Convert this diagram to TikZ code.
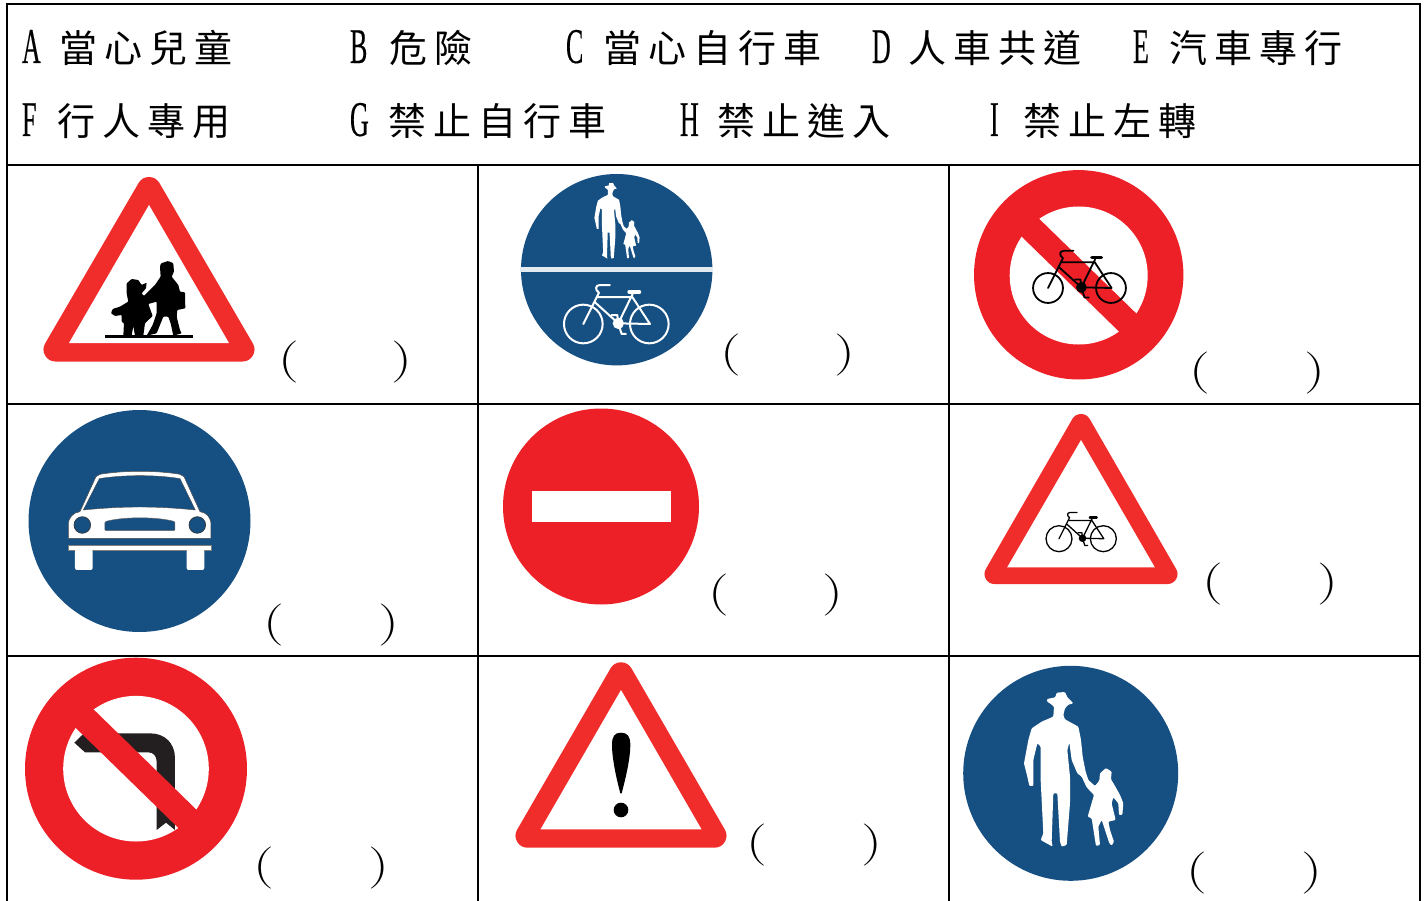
\documentclass[tikz,border=0pt]{standalone}
\usepackage{fontspec}
\newfontfamily\cjk{Noto Sans CJK TC}
\newfontfamily\narrowlat[FakeStretch=0.52,FakeBold=0.25]{Liberation Serif}
\newfontfamily\parenfont[FakeStretch=1.4]{Latin Modern Roman}
\definecolor{signred}{HTML}{EE2027}
\definecolor{warnred}{HTML}{F12D2C}
\definecolor{signblue}{HTML}{164F82}
\definecolor{arrowblack}{HTML}{231F20}
\tikzset{
  grid line/.style={line width=2pt,black},
  label cjk/.style={anchor=base west,inner sep=0pt,outer sep=0pt,font={\fontsize{38}{38}\cjk\addfontfeature{LetterSpace=19}}},
  label lat/.style={anchor=base west,inner sep=0pt,outer sep=0pt,font={\fontsize{50}{50}\narrowlat}},
  paren/.style={anchor=center,inner sep=0pt,outer sep=0pt,font={\fontsize{42}{42}\parenfont}}
}
% warning triangle: #1 rounding triangle, #2 inner triangle
\newcommand{\warnsign}[8]{%
  \fill[warnred,draw=warnred,line join=round,line width=#8pt] (#1,#2)--(#1-#3,#4)--(#1+#3,#4)--cycle;
  \fill[white] (#1,#5)--(#1-#7,#6)--(#1+#7,#6)--cycle;}
% bicycle, drawn in units with rear origin at (310,492)
\newcommand{\bike}[6]{%
\begin{scope}[shift={(#1,#2)},x=#3pt,y=-#3pt,shift={(-310,-492)}]
  \draw[#5,line width=#6pt,fill=none] (310,492) circle[radius=#4] (508,492) circle[radius=#4];
  \draw[#5,line width=#6pt,line join=round,line cap=round]
    (310,492)--(357,398) .. controls (345,390) and (345,375) .. (360,375)--(390,375)
    (350,411)--(457,411) (458,402)--(415,490)--(345,427)
    (415,490)--(510,492)--(457,411);
  \draw[#5,line width=2*#6pt,line cap=round] (448,396)--(478,396);
  \fill[#5] (415,490) circle[radius=17];
  \draw[#5,line width=#6pt,line join=round,line cap=round] (395,465)--(412,465)--(415,490)--(425,522)--(438,522);
\end{scope}}
% man and child, in zoomed coordinates
\newcommand{\manchild}{%
  (291,117)--(316,112)--(320,98)--(345,96)--(352,112)--(370,130)--(355,134)--(345,145)--(340,165)--(345,178)--(385,200)--(393,240)--(398,290)--(407,335)--(415,360)--(435,378)--(448,362)--(450,340)--(468,324)--(485,335)--(483,358)--(495,378)--(510,405)--(520,430)--(517,465)--(507,465)--(505,430)--(490,412)--(485,430)--(497,480)--(475,485)--(480,510)--(492,545)--(485,557)--(478,550)--(465,510)--(455,480)--(445,500)--(450,555)--(438,558)--(432,520)--(425,475)--(413,470)--(432,405)--(410,382)--(395,350)--(382,340)--(365,300)--(358,248)--(352,270)--(360,350)--(360,430)--(350,555)--(335,560)--(330,545)--(322,400)--(310,400)--(305,545)--(308,560)--(272,540)--(280,520)--(272,360)--(272,260)--(262,250)--(250,300)--(250,378)--(238,378)--(232,350)--(222,310)--(235,240)--(245,205)--(275,185)--(310,170)--(312,140)--(300,130)--(291,125)--cycle}
\newcommand{\parpair}[4]{%
  \node[paren] (#1l) at (#2+7,#4) {(};
  \node[paren] (#1r) at (#3+7,#4) {)};}
\begin{document}
\begin{tikzpicture}[x=1pt,y=-1pt]
\useasboundingbox (0,0) rectangle (1426,901);
\fill[white] (0,0) rectangle (1426,901);
% table
\draw[grid line] (7,901)--(7,4)--(1420,4)--(1420,901);
\draw[grid line] (7,165)--(1420,165) (7,404)--(1420,404) (7,656)--(1420,656);
\draw[grid line] (478,165)--(478,901) (949,165)--(949,901);
% legend
\node[label lat] (la) at (22,63) {A};   \node[label cjk] (ta) at (59,63) {當心兒童};
\node[label lat] (lb) at (350,63) {B};  \node[label cjk] (tb) at (389,63) {危險};
\node[label lat] (lc) at (566,63) {C};  \node[label cjk] (tc) at (603,63) {當心自行車};
\node[label lat] (ld) at (872,63) {D};  \node[label cjk] (td) at (908,63) {人車共道};
\node[label lat] (le) at (1133,63) {E}; \node[label cjk] (te) at (1169,63) {汽車專行};
\node[label lat] (lf) at (22,136) {F};  \node[label cjk] (tf) at (57,136) {行人專用};
\node[label lat] (lg) at (350,136) {G}; \node[label cjk] (tg) at (388,136) {禁止自行車};
\node[label lat] (lh) at (680,136) {H}; \node[label cjk] (th) at (717,136) {禁止進入};
\node[label lat] (li) at (990,136) {I}; \node[label cjk] (ti) at (1023,136) {禁止左轉};
% sign 1: children
\warnsign{149}{189}{93.5}{349.5}{205}{343}{80}{24}
\begin{scope}[shift={(0,160)},x=0.3333pt,y=-0.3333pt]
  \fill[black,rounded corners=0.8pt] (483,310)--(505,303)--(520,310)--(522,335)--(515,350)--(535,375)--(540,395)--(555,397)--(556,445)--(532,450)--(530,470)--(540,510)--(545,520)--(520,527)--(512,490)--(505,470)--(490,470)--(470,520)--(440,527)--(458,495)--(470,460)--(470,425)--(445,432)--(458,468)--(435,490)--(430,527)--(405,527)--(400,498)--(395,527)--(370,527)--(372,490)--(365,485)--(365,465)--(345,468)--(333,460)--(338,447)--(360,440)--(385,425)--(380,400)--(380,370)--(395,357)--(415,360)--(425,375)--(440,368)--(438,385)--(425,400)--(432,408)--(465,375)--(482,350)--(480,320)--cycle;
  \fill[black] (316,525) rectangle (580,535);
\end{scope}
\parpair{pa}{282}{395}{362}
% sign 2: shared path
\fill[signblue] (616.7,269.7) circle[radius=95.7];
\fill[white!88!signblue] (520,267.2) rectangle (713,272.3);
\begin{scope}[shift={(560.7,167.2)},x=0.1517pt,y=-0.1633pt]
  \fill[white] \manchild;
\end{scope}
\bike{583.3}{324}{0.3333}{58}{white}{2}
\parpair{pb}{724}{838}{355}
% sign 3: no bicycles
\fill[signred] (1078.7,274.8) circle[radius=104.7];
\fill[white] (1078.7,275.5) circle[radius=69];
\begin{scope}
  \clip (1078.7,274.8) circle[radius=90];
  \draw[signred,line width=25pt] (1078.7-80,274.8-78)--(1078.7+80,274.8+78);
\end{scope}
\bike{1048}{288}{0.318}{47}{black}{1.8}
\parpair{pc}{1193}{1308}{373}
% sign 4: cars
\fill[signblue] (139.5,521) circle[radius=111];
\begin{scope}[shift={(10,410)},x=0.3333pt,y=-0.3333pt]
  \filldraw[white,draw=black!70,line width=0.5pt]
    (175,385)--(175,345) .. controls (175,322) and (190,308) .. (210,305)
    --(258,200) .. controls (262,195) and (265,194) .. (270,193)
    .. controls (340,181) and (440,181) .. (510,193)
    .. controls (515,194) and (518,196) .. (522,200)
    --(570,305) .. controls (590,308) and (603,322) .. (603,345)--(603,385)--cycle;
  \filldraw[signblue,draw=black!70,line width=0.4pt]
    (268,206) .. controls (340,194) and (440,194) .. (510,206)--(556,300)
    .. controls (440,288) and (340,288) .. (220,300)--cycle;
  \filldraw[signblue,draw=black!80,line width=0.6pt] (217,345) circle[radius=25] (562,345) circle[radius=25];
  \filldraw[signblue,draw=black!60,line width=0.5pt,rounded corners=1pt]
    (285,362)--(285,335) .. controls (340,320) and (440,320) .. (495,335)--(495,362)--cycle;
  \filldraw[white,draw=black!50,line width=0.3pt] (175,404) rectangle (603,421);
  \fill[white,rounded corners=2pt] (195,418)--(195,480)--(248,480)--(248,418)--cycle;
  \fill[white,rounded corners=2pt] (530,418)--(530,480)--(583,480)--(583,418)--cycle;
\end{scope}
\parpair{pd}{267}{382}{625}
% sign 5: no entry
\fill[signred] (601,506.5) circle[radius=98];
\fill[white] (532,491) rectangle (671,522);
\parpair{pe}{712}{826}{595}
% sign 6: bicycles ahead
\warnsign{1081}{424}{86.5}{574}{440}{567.3}{73.8}{20}
\bike{1059}{538.7}{0.2239}{58}{black}{1.3}
\parpair{pf}{1206}{1321}{584}
% sign 7: no left turn
\fill[signred] (136,768.7) circle[radius=111];
\fill[white] (136,768.7) circle[radius=72.8];
\begin{scope}[shift={(10,650)},x=0.3333pt,y=-0.3333pt]
  \fill[arrowblack] (193,278)--(222,250)--(420,250) .. controls (465,250) and (495,280) .. (495,325)
    --(495,540)--(468,518)--(440,540)--(440,335) .. controls (440,318) and (430,307) .. (415,307)--(225,307)--cycle;
\end{scope}
\begin{scope}
  \clip (136,768.7) circle[radius=95];
  \draw[signred,line width=25.7pt] (136-80,768.7-78)--(136+80,768.7+78);
\end{scope}
\parpair{pg}{257}{372}{868}
% sign 8: danger
\warnsign{621}{674.3}{93.5}{835.7}{690}{829.3}{80.5}{24}
\begin{scope}[shift={(505,655)},x=0.3333pt,y=-0.3333pt]
  \fill[black] (348,233) .. controls (368,233) and (376,245) .. (376,270)
    .. controls (376,310) and (362,370) .. (350,415)--(346,415)
    .. controls (334,370) and (321,310) .. (321,270)
    .. controls (321,245) and (328,233) .. (348,233)--cycle;
  \fill[black] (348,465) circle[radius=22];
\end{scope}
\parpair{ph}{750}{865}{845}
% sign 9: pedestrians
\fill[signblue] (1070.7,773.3) circle[radius=107.5];
\begin{scope}[shift={(950,660)},x=0.3333pt,y=-0.3333pt]
  \fill[white,rounded corners=1pt] \manchild;
\end{scope}
\parpair{pi}{1190}{1305}{873}
\end{tikzpicture}
\end{document}
